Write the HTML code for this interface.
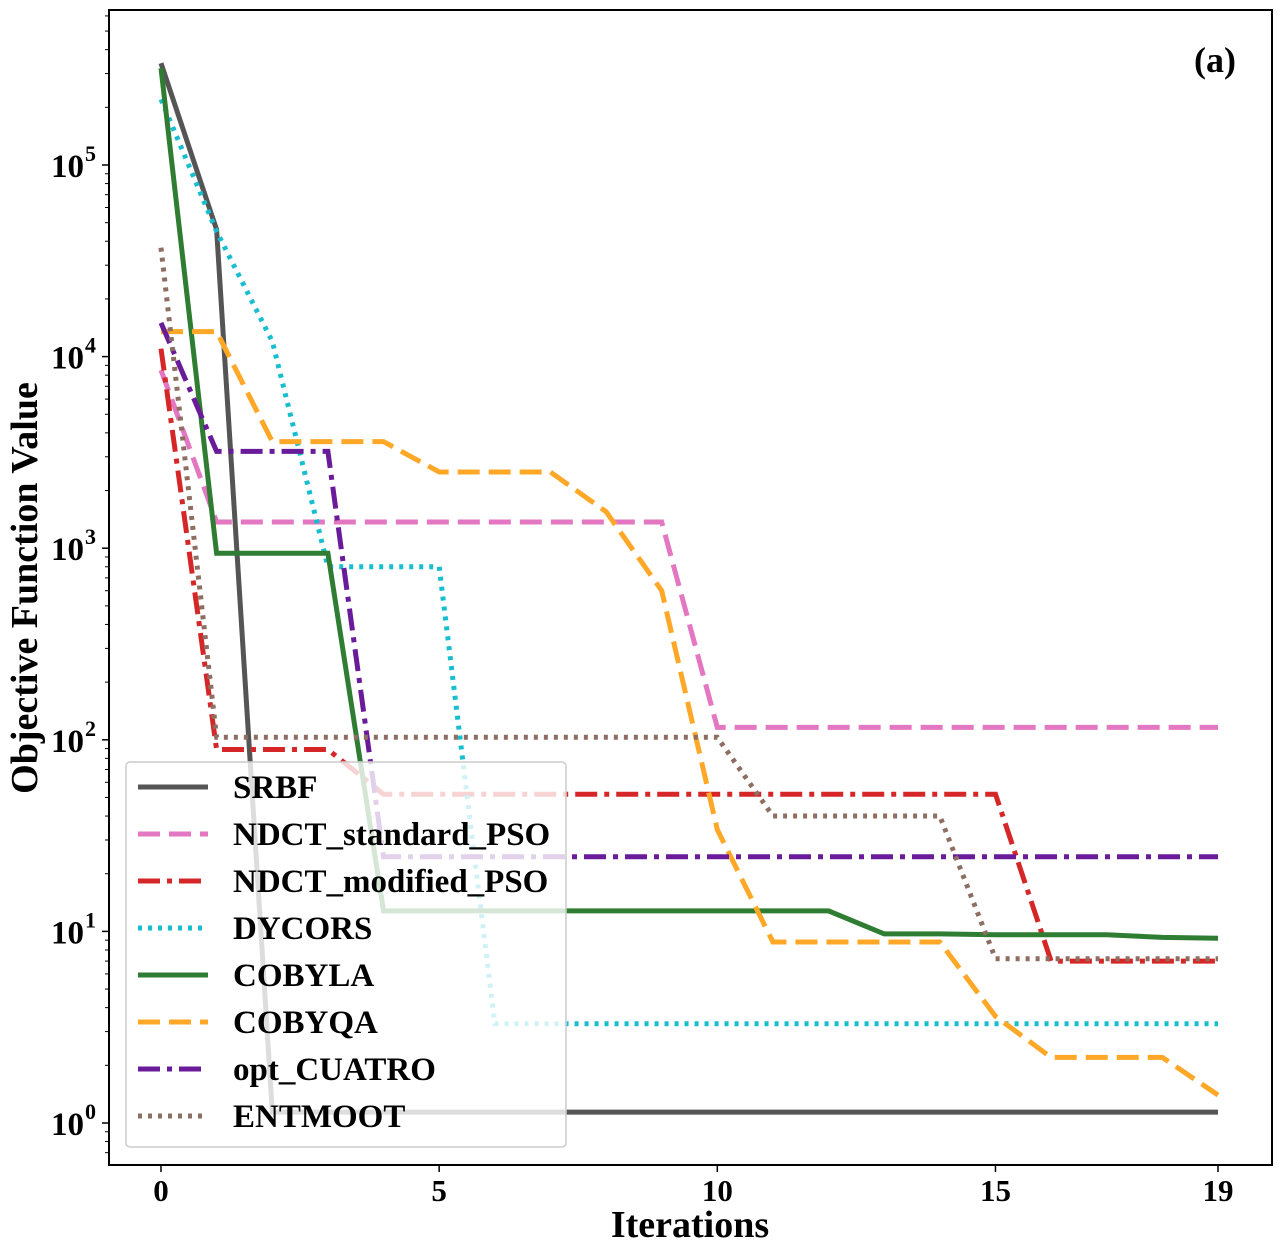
<!DOCTYPE html>
<html><head><meta charset="utf-8"><style>
body{margin:0;background:#fff}
text{font-family:"Liberation Serif",serif;font-weight:bold;fill:#000}
</style></head><body>
<svg id="chart" width="1281" height="1255" xmlns="http://www.w3.org/2000/svg">
<rect width="1281" height="1255" fill="#fff"/>
<g id="minor"></g>
<g id="series"></g>
<rect x="109" y="10" width="1163" height="1155" fill="none" stroke="#000" stroke-width="2"/>
<g id="ticks"></g>
<text x="1236" y="72" font-size="36" text-anchor="end">(a)</text>
<text x="690" y="1237" font-size="38" text-anchor="middle">Iterations</text>
<text transform="translate(37,588) rotate(-90)" font-size="38" text-anchor="middle">Objective Function Value</text>
<g id="legend"></g>
</svg>
<script>
const iterations=[0,1,2,3,4,5,6,7,8,9,10,11,12,13,14,15,16,17,18,19];
const seriesNames=["SRBF","NDCT_standard_PSO","NDCT_modified_PSO","DYCORS","COBYLA","COBYQA","opt_CUATRO","ENTMOOT"];
const srbf=[3.4e5,4.6e4,1.14,1.14,1.14,1.14,1.14,1.14,1.14,1.14,1.14,1.14,1.14,1.14,1.14,1.14,1.14,1.14,1.14,1.14];
const ndctStd=[8.5e3,1370,1370,1370,1370,1370,1370,1370,1370,1370,116,116,116,116,116,116,116,116,116,116];
const ndctMod=[1.1e4,89,89,89,52,52,52,52,52,52,52,52,52,52,52,52,7,7,7,7];
const dycors=[2.2e5,4.5e4,1.2e4,800,800,800,3.3,3.3,3.3,3.3,3.3,3.3,3.3,3.3,3.3,3.3,3.3,3.3,3.3,3.3];
const cobyla=[3.2e5,940,940,940,12.8,12.8,12.8,12.8,12.8,12.8,12.8,12.8,12.8,9.7,9.7,9.6,9.6,9.6,9.3,9.2];
const cobyqa=[1.35e4,1.35e4,3600,3600,3600,2500,2500,2500,1550,600,34,8.8,8.8,8.8,8.8,3.6,2.2,2.2,2.2,1.4];
const cuatro=[1.5e4,3200,3200,3200,24.5,24.5,24.5,24.5,24.5,24.5,24.5,24.5,24.5,24.5,24.5,24.5,24.5,24.5,24.5,24.5];
const entmoot=[3.7e4,103,103,103,103,103,103,103,103,103,103,40,40,40,40,7.2,7.2,7.2,7.2,7.2];
const xTicks=[0,5,10,15,19];
const yTickExps=[0,1,2,3,4,5];

const NS="http://www.w3.org/2000/svg";
const xS=v=>161+v*(1218-161)/19;
const yS=v=>1123-191.6*Math.log10(v);
function mk(tag,attrs,parent){const e=document.createElementNS(NS,tag);for(const k in attrs)e.setAttribute(k,attrs[k]);parent.appendChild(e);return e;}
const styles=[
 {c:"#555555",d:""},
 {c:"#e377c2",d:"22,9"},
 {c:"#d62728",d:"22,7,5,7"},
 {c:"#17becf",d:"4,6"},
 {c:"#2e7d32",d:""},
 {c:"#ffa726",d:"22,9"},
 {c:"#6a1b9a",d:"22,7,5,7"},
 {c:"#8d6e63",d:"4,6"}];
const data=[srbf,ndctStd,ndctMod,dycors,cobyla,cobyqa,cuatro,entmoot];
const sg=document.getElementById("series");
data.forEach((arr,i)=>{
 const pts=arr.map((v,j)=>xS(iterations[j]).toFixed(1)+","+yS(v).toFixed(1)).join(" ");
 const p=mk("polyline",{points:pts,fill:"none",stroke:styles[i].c,"stroke-width":5,"stroke-dasharray":styles[i].d},sg);
 
 
});
const tg=document.getElementById("ticks");
xTicks.forEach(t=>{
 const x=xS(t);
 mk("line",{x1:x,x2:x,y1:1165,y2:1172,stroke:"#000","stroke-width":1.5},tg);
 const tx=mk("text",{x:x,y:1201,"font-size":31,"text-anchor":"middle"},tg);
 tx.textContent=t;
 
 
});
yTickExps.forEach(e=>{
 const y=yS(Math.pow(10,e));
 mk("line",{x1:102,x2:109,y1:y,y2:y,stroke:"#000","stroke-width":1.5},tg);
 const tx=mk("text",{x:84,y:y+12,"font-size":33,"text-anchor":"end"},tg);
 tx.textContent="10";
 
 
 const sp=mk("text",{x:85,y:y-4,"font-size":22,"text-anchor":"start"},tg);
 sp.textContent=e;
 
 
});
for(let e=-1;e<6;e++)for(let m=2;m<10;m++){
 const y=yS(m*Math.pow(10,e));
 if(y<10||y>1165)continue;
 mk("line",{x1:105,x2:109,y1:y,y2:y,stroke:"#000","stroke-width":1},tg);
}
const lg=document.getElementById("legend");
const box=mk("rect",{x:126,y:762,width:440,height:385,rx:4,fill:"#fff","fill-opacity":0.8,stroke:"#ccc","stroke-width":1.5},lg);


seriesNames.forEach((n,i)=>{
 const y=787+i*47;
 mk("line",{x1:138,x2:208,y1:y,y2:y,stroke:styles[i].c,"stroke-width":5,"stroke-dasharray":styles[i].d},lg);
 const t=mk("text",{x:233,y:y+11,"font-size":33},lg);
 t.textContent=n;
 
 
});
</script>
</body></html>
